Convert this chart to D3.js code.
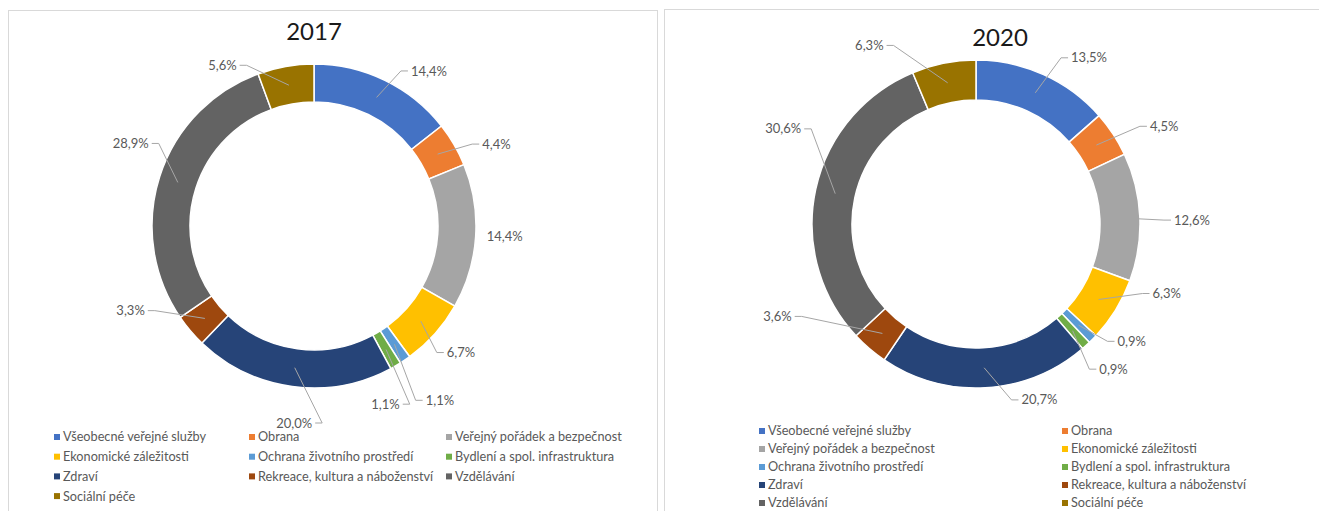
<!DOCTYPE html>
<html>
<head>
<meta charset="utf-8">
<script src="https://cdn.jsdelivr.net/npm/d3@7"></script>
<style>
  body { margin: 0; background: #fff; }
  svg text { font-family: Lato, "Open Sans", sans-serif; }
</style>
</head>
<body>
<div id="chart"></div>
<script>
// -------------------------------
// Data
// -------------------------------
const categories = [
  'Všeobecné veřejné služby', 'Obrana', 'Veřejný pořádek a bezpečnost',
  'Ekonomické záležitosti', 'Ochrana životního prostředí', 'Bydlení a spol. infrastruktura',
  'Zdraví', 'Rekreace, kultura a náboženství', 'Vzdělávání', 'Sociální péče'
];
const values2017 = [14.4, 4.4, 14.4, 6.7, 1.1, 1.1, 20.0, 3.3, 28.9, 5.6];
const values2020 = [13.5, 4.5, 12.6, 6.3, 0.9, 0.9, 20.7, 3.6, 30.6, 6.3];
const colors = ['#4472C4', '#ED7D31', '#A5A5A5', '#FFC000', '#5B9BD5',
                '#70AD47', '#264478', '#9E480E', '#636363', '#997300'];

// label placement: [angle shift in degrees, distance from centre]
const labelShift2017 = [[10.6, 193], [6, 200], [-0.6, 191], [-1, 194], [-1.6, 215],
                        [8.4, 192], [-2, 198], [15.5, 202], [6.5, 201], [-19.6, 185]];
const labelShift2020 = [[9.9, 201], [5.8, 212], [1.4, 216], [-11.6, 203], [-7.6, 195],
                        [-1.3, 200], [-16.6, 187], [24.5, 219], [14.1, 215], [-19.5, 208]];

const W = 1319, H = 511;
const svg = d3.select('#chart').append('svg')
  .attr('width', W).attr('height', H);

// panel frames
svg.append('rect').attr('x', 8.5).attr('y', 10.5).attr('width', 649).attr('height', 520)
  .attr('fill', '#fff').attr('stroke', '#D9D9D9');
svg.append('rect').attr('x', 664.5).attr('y', 9.5).attr('width', 680).attr('height', 520)
  .attr('fill', '#fff').attr('stroke', '#D9D9D9');

const fmt = v => d3.format('.1f')(v).replace('.', ',') + '%';

function drawDonut(cfg) {
  const g = svg.append('g').attr('transform', `translate(${cfg.cx},${cfg.cy})`);
  const pie = d3.pie().sort(null).value(d => d)(cfg.values);
  const arc = d3.arc().innerRadius(cfg.r0).outerRadius(cfg.r1);
  const mid = d3.arc().innerRadius((cfg.r0 + cfg.r1) / 2).outerRadius((cfg.r0 + cfg.r1) / 2);

  g.selectAll('path.slice').data(pie).enter().append('path')
    .attr('class', 'slice')
    .attr('d', arc)
    .attr('fill', (d, i) => colors[i])
    .attr('stroke', '#fff').attr('stroke-width', 1.5);

  // labels + leader lines
  pie.forEach((d, i) => {
    const a = (d.startAngle + d.endAngle) / 2 + cfg.shift[i][0] * Math.PI / 180;
    const dist = cfg.shift[i][1];
    const lx = dist * Math.sin(a), ly = -dist * Math.cos(a);
    const txt = g.append('text')
      .attr('x', lx).attr('y', ly).attr('dy', '0.35em')
      .attr('text-anchor', 'middle')
      .attr('font-size', 13).attr('fill', '#595959')
      .text(fmt(cfg.values[i]));
    const hw = txt.node().getComputedTextLength() / 2;
    const [px, py] = mid.centroid(d);
    const side = lx >= px ? 1 : -1;
    const ex = lx - side * (hw + 3);
    if (Math.hypot(ex - px, ly - py) > 30) {
      g.append('polyline')
        .attr('points', [[px, py], [ex - side * 7, ly], [ex, ly]].map(p => p.join(',')).join(' '))
        .attr('fill', 'none').attr('stroke', '#A6A6A6').attr('stroke-width', 1);
    }
  });

  svg.append('text')
    .attr('x', cfg.titleX).attr('y', cfg.titleY)
    .attr('text-anchor', 'middle').attr('dy', '0.35em')
    .attr('font-size', 24).attr('fill', '#1a1a1a')
    .text(cfg.title);

  // legend (row-major)
  const leg = svg.append('g');
  categories.forEach((c, i) => {
    const col = i % cfg.legCols.length, row = Math.floor(i / cfg.legCols.length);
    const x = cfg.legCols[col], y = cfg.legY + row * cfg.legStep;
    leg.append('rect').attr('x', x).attr('y', y - 3).attr('width', 6).attr('height', 6)
      .attr('fill', colors[i]);
    leg.append('text').attr('x', x + 9).attr('y', y).attr('dy', '0.35em')
      .attr('font-size', 12.7).attr('fill', '#595959').text(c);
  });
}

drawDonut({ cx: 314, cy: 226, r0: 124, r1: 162, values: values2017, shift: labelShift2017,
  title: '2017', titleX: 314, titleY: 32,
  legCols: [54, 249, 446], legY: 437, legStep: 19.7 });
drawDonut({ cx: 976, cy: 224, r0: 124, r1: 164, values: values2020, shift: labelShift2020,
  title: '2020', titleX: 1000, titleY: 38,
  legCols: [759, 1062], legY: 431, legStep: 18 });
</script>
</body>
</html>
